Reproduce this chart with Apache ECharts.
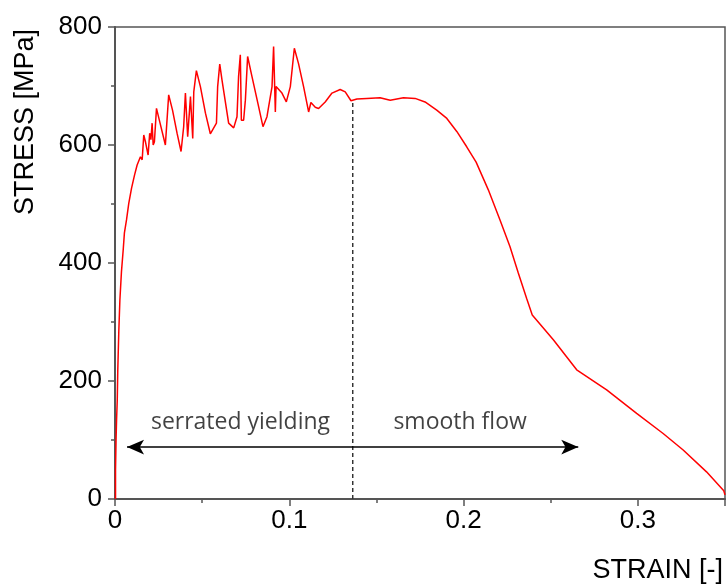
<!DOCTYPE html>
<html>
<head>
<meta charset="utf-8">
<script src="https://cdn.jsdelivr.net/npm/echarts@6/dist/echarts.min.js"></script>
<style>html,body{margin:0;padding:0;background:#fff}#c{width:728px;height:587px}</style>
</head>
<body>
<div id="c"></div>
<script>
const strain = [0.0003,0.0003,0.0006,0.0009,0.0013,0.0016,0.0022,0.0028,0.0037,0.0047,0.0054,0.0066,0.0079,0.0095,0.0112,0.0127,0.0146,0.0156,0.0165,0.0175,0.0190,0.0199,0.0206,0.0213,0.0219,0.0226,0.0238,0.0261,0.0289,0.0308,0.0330,0.0356,0.0379,0.0394,0.0404,0.0417,0.0433,0.0446,0.0452,0.0467,0.0490,0.0519,0.0547,0.0582,0.0589,0.0601,0.0614,0.0652,0.0681,0.0700,0.0709,0.0719,0.0725,0.0738,0.0748,0.0761,0.0786,0.0824,0.0849,0.0872,0.0901,0.0910,0.0920,0.0924,0.0933,0.0958,0.0983,0.1006,0.1029,0.1053,0.1082,0.1111,0.1124,0.1149,0.1168,0.1206,0.1245,0.1292,0.1321,0.1354,0.1388,0.1445,0.1521,0.1579,0.1655,0.1722,0.1779,0.1846,0.1904,0.1961,0.2018,0.2072,0.2142,0.2209,0.2266,0.2314,0.2362,0.2394,0.2515,0.2649,0.2821,0.2993,0.3145,0.3260,0.3394,0.3493,0.3500];
const stress = [0,49,100,134,168,219,286,337,385,422,451,473,501,527,549,566,580,575,617,605,583,620,609,637,600,605,662,634,600,685,659,620,589,631,688,614,682,611,690,726,699,654,619,637,699,737,710,637,629,648,716,753,642,642,676,750,716,665,631,648,699,767,656,699,696,688,673,699,764,738,699,656,672,664,662,673,688,694,690,675,678,679,680,676,680,679,673,659,645,623,597,571,524,473,428,383,340,312,270,219,185,145,111,83,46,14,7];
const xTicks = ['0','0.1','0.2','0.3'];
const yTicks = ['0','200','400','600','800'];
const dividerStrain = 0.1364;
const dividerTop = 676;
const arrowStress = 88;
const arrowFrom = 0.0069;
const arrowTo = 0.2658;
const annotations = [[0.072,129,'serrated yielding'],[0.198,129,'smooth flow']];

const chart = echarts.init(document.getElementById('c'));
const curve = strain.map((s,i)=>[s,stress[i]]);
const axisCol = '#555';
chart.setOption({
  animation:false,
  grid:{left:115,right:2,top:27,bottom:88,show:true,borderColor:axisCol,borderWidth:1.5,backgroundColor:'transparent'},
  xAxis:{type:'value',min:0,max:0.35,interval:0.1,
    axisLine:{show:true,onZero:false,lineStyle:{color:axisCol,width:2}},
    axisTick:{show:true,inside:false,length:7,lineStyle:{color:axisCol,width:1.5}},
    minorTick:{show:true,splitNumber:2,length:4,lineStyle:{color:axisCol,width:1.5}},
    splitLine:{show:false},
    axisLabel:{color:'#000',fontSize:26,fontFamily:'Liberation Sans',margin:9,
      formatter:v=>{const s=xTicks.find(t=>Math.abs(parseFloat(t)-v)<1e-9);return s===undefined?'':s;}}},
  yAxis:{type:'value',min:0,max:800,interval:200,
    axisLine:{show:true,lineStyle:{color:axisCol,width:2}},
    axisTick:{show:true,inside:false,length:7,lineStyle:{color:axisCol,width:1.5}},
    minorTick:{show:true,splitNumber:2,length:4,lineStyle:{color:axisCol,width:1.5}},
    splitLine:{show:false},
    axisLabel:{color:'#000',fontSize:26,fontFamily:'Liberation Sans',margin:13,
      formatter:v=>{const s=yTicks.find(t=>Math.abs(parseFloat(t)-v)<1e-9);return s===undefined?'':s;}}},
  series:[
    {type:'line',data:curve,symbol:'none',lineStyle:{color:'#ff0000',width:1.5},z:3},
    {type:'line',data:[[dividerStrain,0],[dividerStrain,dividerTop]],symbol:'none',
      lineStyle:{color:'#333',width:1.5,type:[4,3]},z:2,
      markLine:{silent:true,symbol:['arrow','arrow'],symbolSize:[11,17],
        lineStyle:{color:'#000',width:1.5,type:'solid'},label:{show:false},
        data:[[{coord:[arrowFrom,arrowStress]},{coord:[arrowTo,arrowStress]}]]}},
    {type:'scatter',data:annotations,symbolSize:0,silent:true,
      label:{show:true,position:'inside',formatter:p=>p.data[2],color:'#111',fontSize:23,fontFamily:'Open Sans'}}
  ],
  graphic:[
    {type:'text',left:12,top:29,rotation:Math.PI/2,style:{text:'STRESS [MPa]',fill:'#000',font:'27px "Liberation Sans"'}},
    {type:'text',right:5,top:557,style:{text:'STRAIN [-]',fill:'#000',font:'27px "Liberation Sans"'}}
  ]
});
</script>
</body>
</html>
